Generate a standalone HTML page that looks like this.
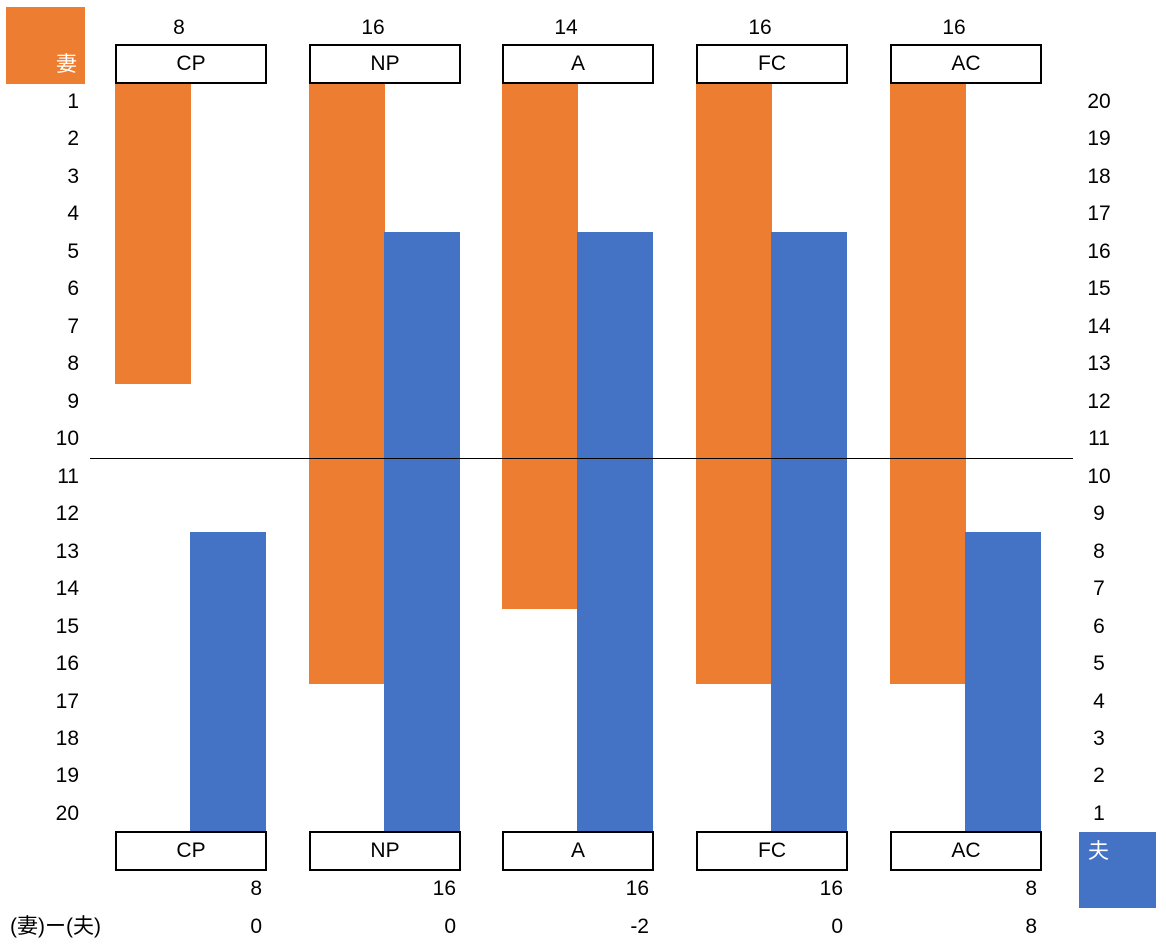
<!DOCTYPE html><html><head><meta charset="utf-8"><style>
body{margin:0;width:1166px;height:945px;background:#fff;position:relative;overflow:hidden;font-family:"Liberation Sans","Noto Sans CJK JP",sans-serif;font-size:21px;color:#000}
div{position:absolute;box-sizing:border-box}
.o{background:#ED7D31}.b{background:#4472C4}
.box{border:2px solid #000;background:#fff;height:40px;width:152px;text-align:center;line-height:36px}
.t{line-height:24px;height:24px}
</style></head><body>
<div class="o" style="left:6px;top:7px;width:79px;height:77px"></div>
<div class="t" style="left:56px;top:53px;color:#fff">妻</div>
<div class="b" style="left:1079px;top:832px;width:77px;height:76px"></div>
<div class="t" style="left:1088px;top:840px;color:#fff">夫</div>
<div id="g"></div>
<script>
var xs=[115,309,502,696,890],nm=["CP","NP","A","FC","AC"],ov=[8,16,14,16,16],bv=[8,16,16,16,8],df=[0,0,-2,0,8],h="";
for(var i=0;i<5;i++){var x=xs[i];
h+='<div class="o" style="left:'+x+'px;top:84px;width:76px;height:'+(ov[i]*37.5)+'px"></div>';
h+='<div class="b" style="left:'+(x+75)+'px;top:'+(832-bv[i]*37.5)+'px;width:76px;height:'+(bv[i]*37.5)+'px"></div>';
h+='<div class="box" style="left:'+x+'px;top:44px">'+nm[i]+'</div>';
h+='<div class="box" style="left:'+x+'px;top:831px">'+nm[i]+'</div>';
h+='<div class="t" style="left:'+(x+26)+'px;top:16px;width:76px;text-align:center">'+ov[i]+'</div>';
h+='<div class="t" style="left:'+(x+47)+'px;top:877px;width:100px;text-align:right">'+bv[i]+'</div>';
h+='<div class="t" style="left:'+(x+47)+'px;top:915px;width:100px;text-align:right">'+df[i]+'</div>';}
for(var r=1;r<=20;r++){var y=102+(r-1)*37.47-12;
h+='<div class="t" style="left:20px;top:'+y+'px;width:59px;text-align:right">'+r+'</div>';
h+='<div class="t" style="left:1076px;top:'+y+'px;width:46px;text-align:center">'+(21-r)+'</div>';}
h+='<div style="left:90px;top:458px;width:983px;height:1px;background:#000"></div>';
h+='<div class="t" style="left:10px;top:915px">(妻)ー(夫)</div>';
document.getElementById("g").outerHTML=h;
</script>
</body></html>
